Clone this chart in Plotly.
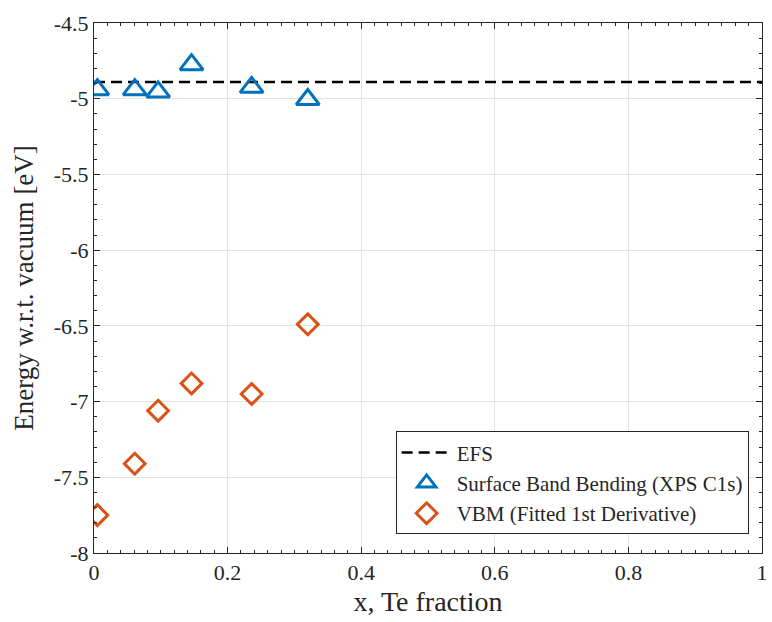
import plotly.graph_objects as go

# ---- data ----
efs_x = [0, 1]
efs_y = [-4.89, -4.89]

sbb_x = [0.005, 0.061, 0.096, 0.146, 0.236, 0.320]
sbb_y = [-4.94, -4.94, -4.955, -4.775, -4.925, -5.005]

vbm_x = [0.005, 0.061, 0.096, 0.146, 0.236, 0.320]
vbm_y = [-7.75, -7.41, -7.06, -6.88, -6.95, -6.49]

x_ticks = [0, 0.2, 0.4, 0.6, 0.8, 1]
x_tick_labels = ["0", "0.2", "0.4", "0.6", "0.8", "1"]
y_ticks = [-8, -7.5, -7, -6.5, -6, -5.5, -5, -4.5]
y_tick_labels = ["-8", "-7.5", "-7", "-6.5", "-6", "-5.5", "-5", "-4.5"]

BLUE = "#0072BD"
ORANGE = "#D95319"
AXC = "#262626"
FONT = "Liberation Serif"

fig = go.Figure()
fig.add_trace(go.Scatter(
    x=efs_x, y=efs_y, mode="lines", name="EFS",
    line=dict(color="black", width=2.5, dash="11px,6px"),
))
fig.add_trace(go.Scatter(
    x=sbb_x, y=sbb_y, mode="markers", name="Surface Band Bending (XPS C1s)",
    marker=dict(symbol="triangle-up-open", size=20, color=BLUE,
                line=dict(color=BLUE, width=3)),
))
fig.add_trace(go.Scatter(
    x=vbm_x, y=vbm_y, mode="markers", name="VBM (Fitted 1st Derivative)",
    marker=dict(symbol="diamond-open", size=16, color=ORANGE,
                line=dict(color=ORANGE, width=3)),
))

axis_common = dict(
    showline=True, linecolor=AXC, linewidth=1, mirror="ticks",
    ticks="inside", ticklen=6, tickcolor=AXC, tickwidth=1,
    showgrid=True, gridcolor="#e3e3e3", gridwidth=1, zeroline=False,
    tickfont=dict(family=FONT, size=22, color=AXC),
    ticklabeloverflow="allow",
)

fig.update_xaxes(
    range=[0, 1], tickvals=x_ticks, ticktext=x_tick_labels,
    minor=dict(ticks="inside", dtick=0.02, ticklen=3, tickcolor=AXC, showgrid=False),
    title=dict(text="x, Te fraction", font=dict(family=FONT, size=28, color=AXC), standoff=6),
    **axis_common,
)
fig.update_yaxes(
    range=[-8, -4.5], tickvals=y_ticks, ticktext=y_tick_labels,
    minor=dict(ticks="inside", dtick=0.1, ticklen=3, tickcolor=AXC, showgrid=False),
    title=dict(text="Energy w.r.t. vacuum [eV]", font=dict(family=FONT, size=27, color=AXC), standoff=12),
    **axis_common,
)

fig.update_layout(
    width=772, height=622,
    margin=dict(l=94, r=4, t=23, b=69),
    paper_bgcolor="white", plot_bgcolor="white",
    font=dict(family=FONT, color=AXC),
    showlegend=True,
    legend=dict(
        x=0.98, y=0.035, xanchor="right", yanchor="bottom",
        bgcolor="white", bordercolor=AXC, borderwidth=1,
        font=dict(family=FONT, size=21, color=AXC),
        tracegroupgap=0, itemwidth=50,
    ),
)

fig.write_html("out.html")
